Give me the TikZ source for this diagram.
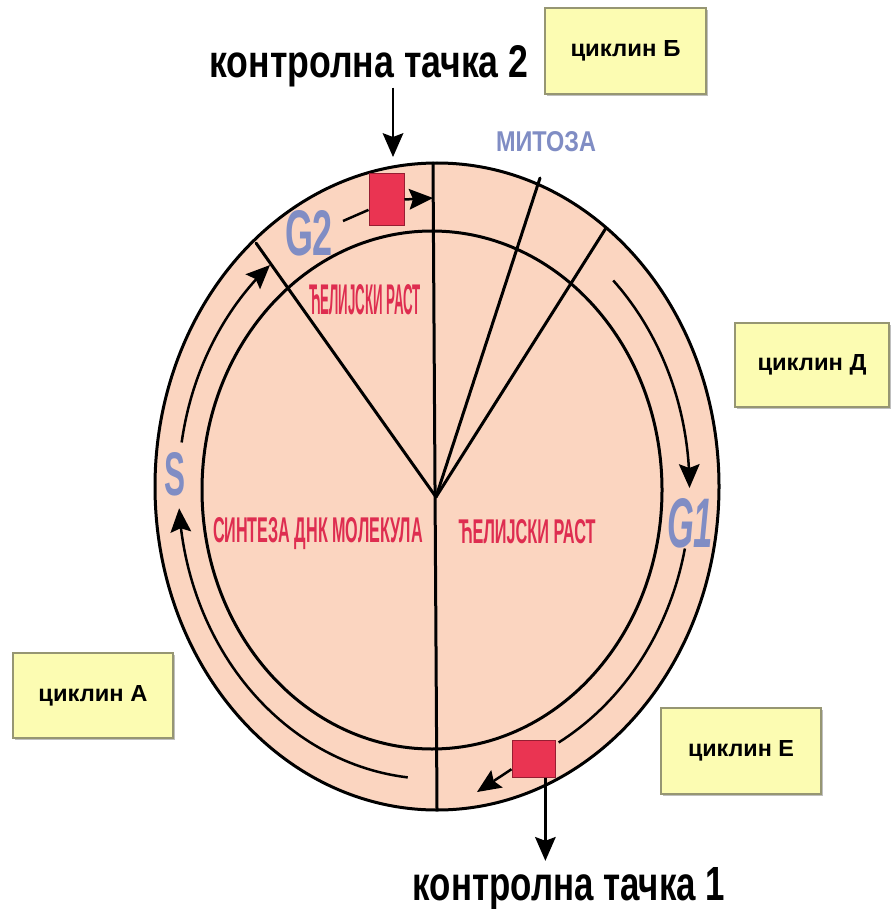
\documentclass[tikz,border=0pt]{standalone}
\usepackage{fontspec}
\setmainfont{Liberation Sans}
\usepackage{graphicx}
\usetikzlibrary{arrows.meta,shadows}

\definecolor{peach}{RGB}{251,213,192}
\definecolor{phase}{RGB}{128,141,196}
\definecolor{growth}{RGB}{222,45,80}
\definecolor{checkred}{RGB}{234,52,82}
\definecolor{checkedge}{RGB}{150,30,50}
\definecolor{cyclinfill}{RGB}{252,252,178}
\definecolor{cyclinedge}{RGB}{150,150,115}

% scale a piece of text to an exact width and height (in pt)
\newcommand\fitto[3]{\resizebox{#1pt}{#2pt}{#3}}

% filled arrow head used on every arrow
\tikzset{headtip/.tip={Stealth[length=24pt,width=21pt,inset=4pt,line width=0pt]}}

\begin{document}
\begin{tikzpicture}[x=1pt,y=-1pt,
  rim/.style={line width=3pt, line cap=round},
  band/.style={line width=2.5pt},
  flow/.style={line width=2.5pt, -headtip},
  txt/.style={inner sep=0pt, anchor=base},
  checkbox/.style={draw=checkedge, line width=1pt, fill=checkred, inner sep=0pt},
  cyclin/.style={draw=cyclinedge, line width=1.2pt, fill=cyclinfill, inner sep=0pt,
    drop shadow={shadow xshift=2pt, shadow yshift=-2pt, opacity=0.25, fill=black}},
]
\useasboundingbox (0,0) rectangle (891,909);
\fill[white] (0,0) rectangle (891,909);

% cell: outer and inner ring
\draw[rim, fill=peach] (437,486.5) ellipse [x radius=282, y radius=323.5];
\draw[rim] (432,490) ellipse [x radius=230, y radius=259];

% sector boundaries
\coordinate (hub) at (436,497);
\coordinate (vtop) at (433,163);
\coordinate (vbot) at (437,809);
\coordinate (g2edge) at (256,243);
\coordinate (mA) at (540,178);
\coordinate (mB) at (606,228);
\draw[rim] (vtop) -- (vbot);
\draw[rim] (hub) -- (g2edge);
\draw[rim] (hub) -- (mA);
\draw[rim] (hub) -- (mB);

% direction of the cycle, along the middle of the ring
\draw[flow] plot[domain=-45.5:0, samples=40] ({434.5+255*cos(\x)},{488+291*sin(\x)});
\draw[band] plot[domain=12:61, samples=40] ({434.5+256*cos(\x)},{488+291*sin(\x)});
\draw[flow] plot[domain=96:176, samples=60] ({434.5+256*cos(\x)},{488+291*sin(\x)});
\draw[flow] plot[domain=189:230, samples=40] ({434.5+256*cos(\x)},{488+291*sin(\x)});

% checkpoint 2 (G2 -> mitosis)
\node[checkbox, minimum width=35pt, minimum height=52pt] (cp2) at (386.5,199.5) {};
\coordinate (g2tail) at (343,221);
\coordinate (m2) at (433,198);
\draw[band] (g2tail) -- (cp2.210);
\draw[flow] (cp2.east) -- (m2);

% checkpoint 1 (G1 -> S)
\node[checkbox, minimum width=43pt, minimum height=37pt] (cp1) at (533.5,758.5) {};
\coordinate (s1tip) at (477,792);
\draw[flow] (cp1.206) -- (s1tip);

% checkpoint captions
\node[txt] (k2) at (369,78) {\fitto{319}{32}{\bfseries контролна тачка 2}};
\node[txt] (k1) at (569,900) {\fitto{312}{33}{\bfseries контролна тачка 1}};
\coordinate (k2tip) at (393,157);
\draw[flow] (k2tip |- k2.south) -- (k2tip);
\draw[flow, shorten >=6pt] (cp1.-58) -- (cp1.-58 |- k1.north);

% phase names
\node[txt, text=phase] (mitoza) at (546,152) {\fitto{100}{20}{\bfseries МИТОЗА}};
\node[txt, text=phase] (g2) at (309,255) {\fitto{48}{45}{\bfseries G2}};
\node[txt, text=phase] (s) at (175,495) {\fitto{21}{43}{\bfseries S}};
\node[txt, text=phase] (g1) at (690,547) {\fitto{46}{49}{\bfseries\itshape G1}};

% what happens in each phase
\node[txt, text=growth] (growA) at (365,314) {\fitto{112}{30}{\bfseries ЋЕЛИЈСКИ РАСТ}};
\node[txt, text=growth] (synth) at (318,542) {\fitto{210}{25}{\bfseries СИНТЕЗА ДНК МОЛЕКУЛА}};
\node[txt, text=growth] (growB) at (527,543) {\fitto{137}{24}{\bfseries ЋЕЛИЈСКИ РАСТ}};

% cyclins
\node[cyclin, minimum width=161pt, minimum height=86pt] (cycB) at (625.5,51) {\fitto{110}{16}{\bfseries циклин Б}};
\node[cyclin, minimum width=154pt, minimum height=84pt] (cycD) at (812,365) {\fitto{109}{16}{\bfseries циклин Д}};
\node[cyclin, minimum width=160pt, minimum height=85pt] (cycA) at (93,695.5) {\fitto{109}{16}{\bfseries циклин А}};
\node[cyclin, minimum width=160pt, minimum height=86pt] (cycE) at (741,751) {\fitto{106}{16}{\bfseries циклин Е}};
\end{tikzpicture}
\end{document}
